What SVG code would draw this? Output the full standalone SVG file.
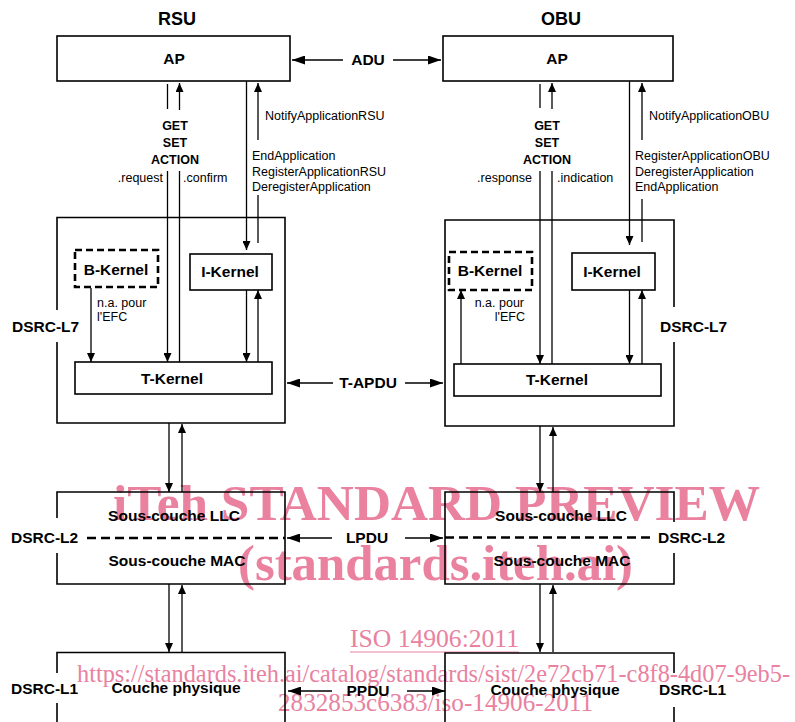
<svg xmlns="http://www.w3.org/2000/svg" width="795" height="722" viewBox="0 0 795 722">
<defs>
<style>
.b{font-family:"Liberation Sans",Arial,sans-serif;font-weight:bold;font-size:15.5px;fill:#000}
.s{font-family:"Liberation Sans",Arial,sans-serif;font-weight:bold;font-size:12.5px;fill:#000}
.n{font-family:"Liberation Sans",Arial,sans-serif;font-size:12.5px;fill:#000}
.t{font-family:"Liberation Sans",Arial,sans-serif;font-weight:bold;font-size:18px;fill:#000}
.m{text-anchor:middle}
.e{text-anchor:end}
.box{fill:none;stroke:#000;stroke-width:1.6}
.dbox{fill:none;stroke:#000;stroke-width:2.6;stroke-dasharray:7 4}
.ln{fill:none;stroke:#000;stroke-width:1.3}
.dl{fill:none;stroke:#000;stroke-width:2.6;stroke-dasharray:9 5}
.wm{font-family:"Liberation Serif","Times New Roman",serif;fill:#e9819f}
</style>
<marker id="a" markerUnits="userSpaceOnUse" markerWidth="9" markerHeight="8" refX="9" refY="4" orient="auto" viewBox="0 0 9 8"><path d="M0,0 L9,4 L0,8z" fill="#000"/></marker>
<marker id="A" markerUnits="userSpaceOnUse" markerWidth="13" markerHeight="9" refX="13" refY="4.5" orient="auto" viewBox="0 0 13 9"><path d="M0,0 L13,4.5 L0,9z" fill="#000"/></marker>
</defs>
<rect width="795" height="722" fill="#fff"/>

<g id="watermark">
<text class="wm" x="113" y="520" font-size="51" font-weight="bold" textLength="647" lengthAdjust="spacingAndGlyphs">iTeh STANDARD PREVIEW</text>
<text class="wm" x="238" y="580" font-size="51" font-weight="bold" textLength="395" lengthAdjust="spacingAndGlyphs">(standards.iteh.ai)</text>
<text class="wm" x="350" y="647" font-size="25" textLength="169" lengthAdjust="spacingAndGlyphs">ISO 14906:2011</text>
<line x1="350" y1="652" x2="519" y2="652" stroke="#e9819f" stroke-width="1.2"/>
<text class="wm" x="77" y="682" font-size="25" textLength="713" lengthAdjust="spacingAndGlyphs">https://standards.iteh.ai/catalog/standards/sist/2e72cb71-c8f8-4d07-9eb5-</text>
<text class="wm" x="278" y="711" font-size="25" textLength="315" lengthAdjust="spacingAndGlyphs">2832853c6383/iso-14906-2011</text>
</g>

<text class="t m" x="177" y="25">RSU</text>
<text class="t m" x="561" y="25">OBU</text>

<g id="rsu-ap"><rect class="box" x="57" y="36" width="233" height="45"/><text class="b m" x="174" y="64">AP</text></g>
<g id="obu-ap"><rect class="box" x="443" y="36" width="230" height="45"/><text class="b m" x="557" y="64">AP</text></g>

<g id="rsu-l7"><path class="box" d="M57,310 V217.5 H285 V423 H57 V342"/><text class="b" x="12" y="332">DSRC-L7</text></g>
<g id="obu-l7"><path class="box" d="M674,307 V220 H445 V426 H674 V342"/><text class="b" x="660" y="332">DSRC-L7</text></g>

<g id="rsu-bk"><rect class="dbox" x="75" y="250" width="83" height="37"/><text class="b m" x="116" y="275">B-Kernel</text></g>
<g id="rsu-ik"><rect class="box" x="190" y="254" width="82" height="36"/><text class="b m" x="230" y="277">I-Kernel</text></g>
<g id="rsu-tk"><rect class="box" x="75" y="362" width="197" height="32"/><text class="b m" x="172" y="384">T-Kernel</text></g>

<g id="obu-bk"><rect class="dbox" x="449" y="252" width="83" height="38"/><text class="b m" x="490" y="276">B-Kernel</text></g>
<g id="obu-ik"><rect class="box" x="572" y="253" width="83" height="37"/><text class="b m" x="612" y="277">I-Kernel</text></g>
<g id="obu-tk"><rect class="box" x="454" y="364" width="207" height="32"/><text class="b m" x="557" y="385">T-Kernel</text></g>

<g id="rsu-l2"><path class="box" d="M57,518 V492 H285 V584 H57 V553"/><text class="b m" x="174" y="521">Sous-couche LLC</text><text class="b m" x="177" y="566">Sous-couche MAC</text><text class="b" x="11" y="543">DSRC-L2</text></g>
<g id="obu-l2"><path class="box" d="M674,522 V492 H445 V584 H674 V553"/><text class="b m" x="561" y="521">Sous-couche LLC</text><text class="b m" x="562" y="566">Sous-couche MAC</text><text class="b" x="658" y="543">DSRC-L2</text></g>

<g id="rsu-l1"><path class="box" d="M57,673 V652.5 H285 V724 M57,703 V724"/><text class="b m" x="176" y="693">Couche physique</text><text class="b" x="11" y="694">DSRC-L1</text></g>
<g id="obu-l1"><path class="box" d="M674,673 V653 H445 V724 M674,707 V724"/><text class="b m" x="555" y="695">Couche physique</text><text class="b" x="659" y="695">DSRC-L1</text></g>

<g id="connectors">
<path class="ln" d="M167.5,84 V109"/>
<path class="ln" d="M179.5,110 V83" marker-end="url(#a)"/>
<path class="ln" d="M167.5,171 V362" marker-end="url(#a)"/>
<path class="ln" d="M179.5,362 V171"/>
<path class="ln" d="M246.5,81 V250" marker-end="url(#a)"/>
<path class="ln" d="M258,243 V195"/>
<path class="ln" d="M258,140 V83" marker-end="url(#a)"/>
<path class="ln" d="M91,288 V362" marker-end="url(#a)"/>
<path class="ln" d="M246.5,290 V362" marker-end="url(#a)"/>
<path class="ln" d="M258,362 V290" marker-end="url(#a)"/>
<path class="ln" d="M169,423 V492" marker-end="url(#a)"/>
<path class="ln" d="M182,492 V424" marker-end="url(#a)"/>
<path class="ln" d="M169,584 V652" marker-end="url(#a)"/>
<path class="ln" d="M182,652 V585" marker-end="url(#a)"/>

<path class="ln" d="M540,84 V108"/>
<path class="ln" d="M552,109 V83" marker-end="url(#a)"/>
<path class="ln" d="M540,171 V364" marker-end="url(#a)"/>
<path class="ln" d="M552,364 V171"/>
<path class="ln" d="M629.5,81 V245" marker-end="url(#a)"/>
<path class="ln" d="M642,242 V199"/>
<path class="ln" d="M642,140 V83" marker-end="url(#a)"/>
<path class="ln" d="M461,364 V290" marker-end="url(#a)"/>
<path class="ln" d="M629.5,290 V364" marker-end="url(#a)"/>
<path class="ln" d="M642,364 V290" marker-end="url(#a)"/>
<path class="ln" d="M540,426 V492" marker-end="url(#a)"/>
<path class="ln" d="M553,492 V427" marker-end="url(#a)"/>
<path class="ln" d="M540,584 V652" marker-end="url(#a)"/>
<path class="ln" d="M553,652 V585" marker-end="url(#a)"/>

<path class="ln" d="M343,60 H292" marker-end="url(#A)"/>
<path class="ln" d="M393,60 H441" marker-end="url(#A)"/>
<path class="ln" d="M333,383 H287" marker-end="url(#A)"/>
<path class="ln" d="M405,383 H443" marker-end="url(#A)"/>
<path class="ln" d="M332,538 H287" marker-end="url(#A)"/>
<path class="ln" d="M405,538 H443" marker-end="url(#A)"/>
<path class="ln" d="M332,691 H288" marker-end="url(#A)"/>
<path class="ln" d="M407,691 H445" marker-end="url(#A)"/>

<path class="dl" d="M87,538 H285"/>
<path class="dl" d="M445,537.5 H653"/>
</g>

<g id="labels">
<text class="b m" x="368" y="65">ADU</text>
<text class="b m" x="368" y="388">T-APDU</text>
<text class="b m" x="367" y="543">LPDU</text>
<text class="b m" x="368" y="696">PPDU</text>

<text class="s m" x="175" y="130">GET</text>
<text class="s m" x="175" y="147">SET</text>
<text class="s m" x="175" y="164">ACTION</text>
<text class="n e" x="163" y="182">.request</text>
<text class="n" x="183" y="182">.confirm</text>
<text class="n" x="265" y="120">NotifyApplicationRSU</text>
<text class="n" x="252" y="160">EndApplication</text>
<text class="n" x="252" y="176">RegisterApplicationRSU</text>
<text class="n" x="252" y="191">DeregisterApplication</text>
<text class="n" x="97" y="307">n.a. pour</text>
<text class="n" x="97" y="321">l'EFC</text>

<text class="s m" x="547" y="130">GET</text>
<text class="s m" x="547" y="147">SET</text>
<text class="s m" x="547" y="164">ACTION</text>
<text class="n e" x="532" y="182">.response</text>
<text class="n" x="557" y="182">.indication</text>
<text class="n" x="649" y="120">NotifyApplicationOBU</text>
<text class="n" x="635" y="160">RegisterApplicationOBU</text>
<text class="n" x="635" y="176">DeregisterApplication</text>
<text class="n" x="635" y="191">EndApplication</text>
<text class="n e" x="524" y="307">n.a. pour</text>
<text class="n e" x="525" y="321">l'EFC</text>
</g>
</svg>
